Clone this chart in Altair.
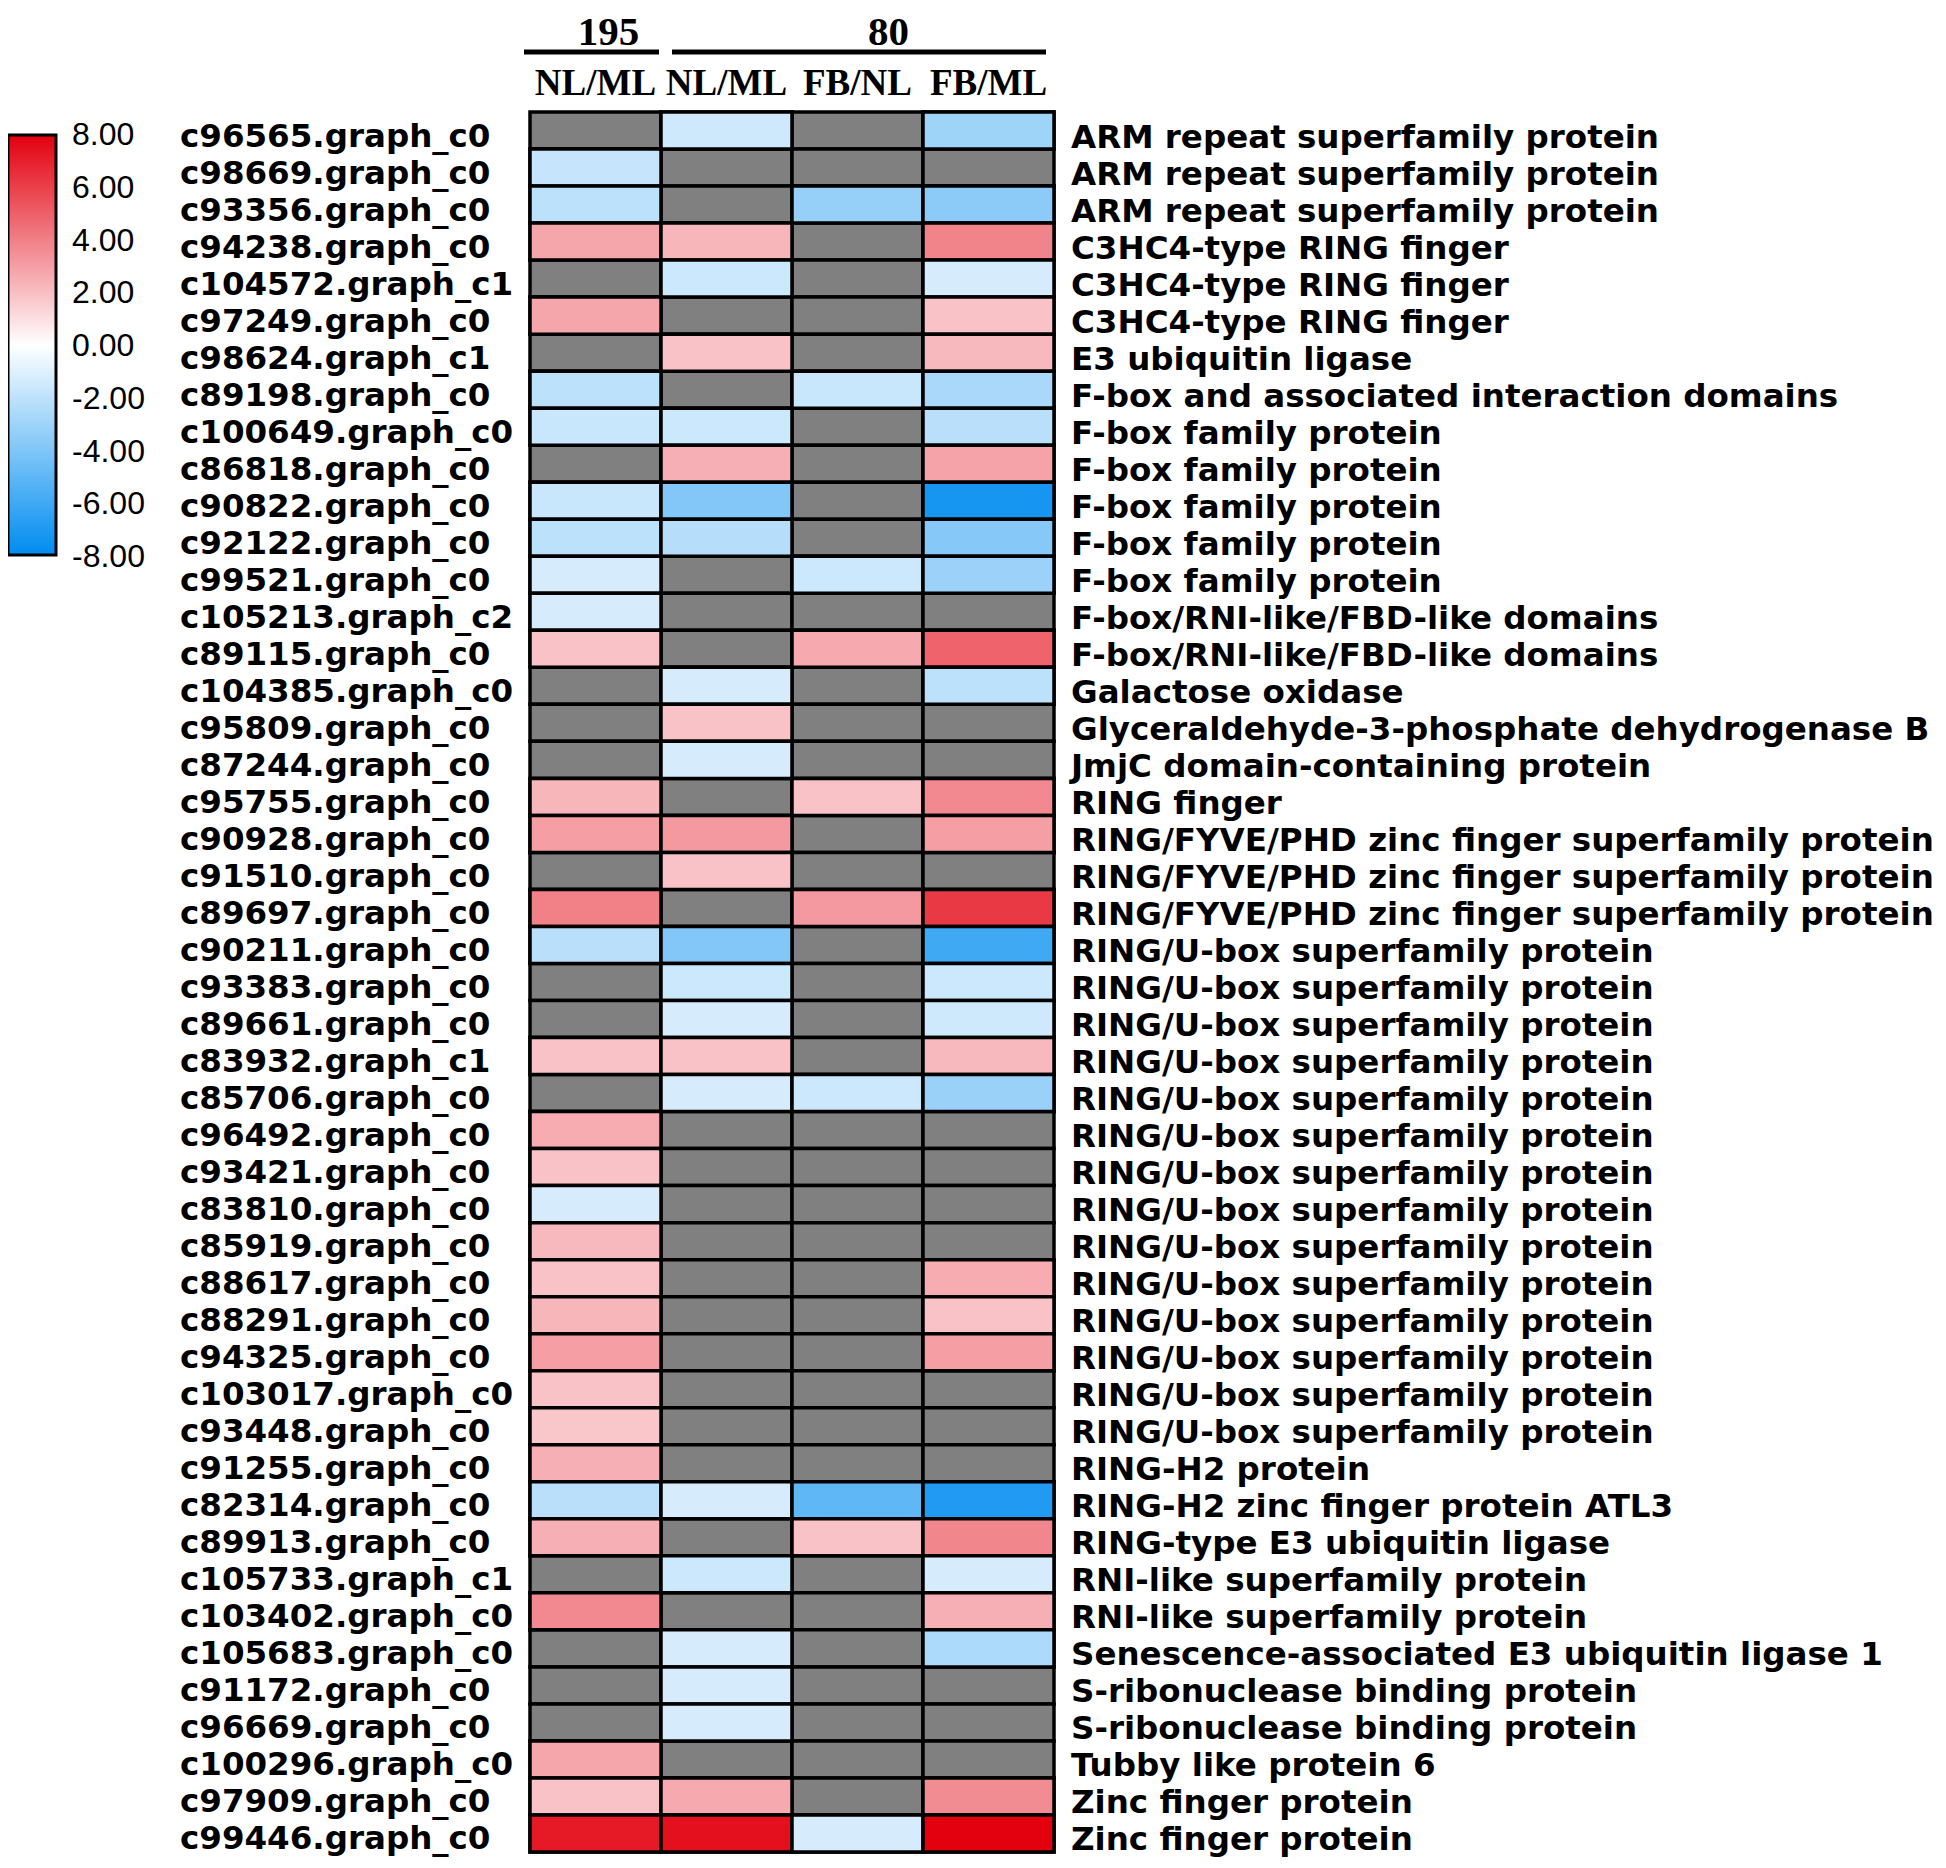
import altair as alt
import pandas as pd

genes = [
    "c96565.graph_c0", "c98669.graph_c0", "c93356.graph_c0", "c94238.graph_c0",
    "c104572.graph_c1", "c97249.graph_c0", "c98624.graph_c1", "c89198.graph_c0",
    "c100649.graph_c0", "c86818.graph_c0", "c90822.graph_c0", "c92122.graph_c0",
    "c99521.graph_c0", "c105213.graph_c2", "c89115.graph_c0", "c104385.graph_c0",
    "c95809.graph_c0", "c87244.graph_c0", "c95755.graph_c0", "c90928.graph_c0",
    "c91510.graph_c0", "c89697.graph_c0", "c90211.graph_c0", "c93383.graph_c0",
    "c89661.graph_c0", "c83932.graph_c1", "c85706.graph_c0", "c96492.graph_c0",
    "c93421.graph_c0", "c83810.graph_c0", "c85919.graph_c0", "c88617.graph_c0",
    "c88291.graph_c0", "c94325.graph_c0", "c103017.graph_c0", "c93448.graph_c0",
    "c91255.graph_c0", "c82314.graph_c0", "c89913.graph_c0", "c105733.graph_c1",
    "c103402.graph_c0", "c105683.graph_c0", "c91172.graph_c0", "c96669.graph_c0",
    "c100296.graph_c0", "c97909.graph_c0", "c99446.graph_c0",
]

annotations = [
    "ARM repeat superfamily protein", "ARM repeat superfamily protein",
    "ARM repeat superfamily protein", "C3HC4-type RING finger",
    "C3HC4-type RING finger", "C3HC4-type RING finger", "E3 ubiquitin ligase",
    "F-box and associated interaction domains", "F-box family protein",
    "F-box family protein", "F-box family protein", "F-box family protein",
    "F-box family protein", "F-box/RNI-like/FBD-like domains",
    "F-box/RNI-like/FBD-like domains", "Galactose oxidase",
    "Glyceraldehyde-3-phosphate dehydrogenase B", "JmjC domain-containing protein",
    "RING finger", "RING/FYVE/PHD zinc finger superfamily protein",
    "RING/FYVE/PHD zinc finger superfamily protein",
    "RING/FYVE/PHD zinc finger superfamily protein",
    "RING/U-box superfamily protein", "RING/U-box superfamily protein",
    "RING/U-box superfamily protein", "RING/U-box superfamily protein",
    "RING/U-box superfamily protein", "RING/U-box superfamily protein",
    "RING/U-box superfamily protein", "RING/U-box superfamily protein",
    "RING/U-box superfamily protein", "RING/U-box superfamily protein",
    "RING/U-box superfamily protein", "RING/U-box superfamily protein",
    "RING/U-box superfamily protein", "RING/U-box superfamily protein",
    "RING-H2 protein", "RING-H2 zinc finger protein ATL3",
    "RING-type E3 ubiquitin ligase", "RNI-like superfamily protein",
    "RNI-like superfamily protein", "Senescence-associated E3 ubiquitin ligase 1",
    "S-ribonuclease binding protein", "S-ribonuclease binding protein",
    "Tubby like protein 6", "Zinc finger protein", "Zinc finger protein",
]

N = None
# log2 fold changes; None = not detected (grey)
nlml_195 = [N, -1.8, -2.1, 2.8, N, 2.8, N, -2.1, -1.7, N, -1.7, -2.1, -1.3, -1.3,
            1.9, N, N, N, 2.3, 3.0, N, 4.0, -2.2, N, N, 1.9, N, 2.6, 1.9, -1.3,
            2.2, 1.9, 2.3, 3.0, 1.9, 1.8, 2.5, -2.2, 2.5, N, 3.7, N, N, N, 2.8,
            1.9, 7.2]
nlml_80 = [-1.5, N, N, 2.3, -1.6, N, 1.9, N, -1.6, 2.5, -3.9, -2.3, N, N, N,
           -1.3, 1.9, -1.3, N, 3.2, 1.9, N, -3.9, -1.6, -1.3, 1.9, -1.3, N, N, N,
           N, N, N, N, N, N, N, -1.3, N, -1.6, N, -1.3, -1.3, -1.3, N, 2.7, 7.5]
fbnl_80 = [N, N, -3.3, N, N, N, N, -1.7, N, N, N, N, -1.6, N, 2.7, N, N, N, 1.9,
           N, N, 3.2, N, N, N, N, -1.6, N, N, N, N, N, N, N, N, N, N, -5.0, 1.9,
           N, N, N, N, N, N, N, -1.3]
fbml_80 = [-3.0, N, -3.6, 3.9, -1.3, 1.9, 2.2, -2.7, -2.2, 2.9, -7.3, -3.8, -3.1,
           N, 4.9, -2.1, N, N, 3.7, 3.0, N, 6.2, -6.0, -1.6, -1.5, 2.2, -3.2, N,
           N, N, N, 2.6, 1.9, 3.0, N, N, N, -7.0, 3.8, -1.3, 2.5, -2.6, N, N, N,
           3.6, 8.0]

column_labels = ["NL/ML", "NL/ML", "FB/NL", "FB/ML"]
group_labels = ["195", "80"]
group_start = [0, 1]
group_end = [1, 4]
legend_ticks = [8, 6, 4, 2, 0, -2, -4, -6, -8]

nrows = len(genes)
series = [nlml_195, nlml_80, fbnl_80, fbml_80]
cells = pd.DataFrame(
    [{"row": r, "col": c, "value": series[c][r]} for c in range(4) for r in range(nrows)]
)
rowdf = pd.DataFrame({"row": list(range(nrows)), "gene": genes, "annot": annotations})
coldf = pd.DataFrame({"col": list(range(4)), "label": column_labels})
grpdf = pd.DataFrame({"label": group_labels, "start": group_start, "end": group_end})
legdf = pd.DataFrame({"tick": legend_ticks})

W, H = 524, 1740
xs = alt.Scale(domain=[0, 4], nice=False, zero=False)
ys = alt.Scale(domain=[0, nrows], reverse=True, nice=False, zero=False)

base_cells = alt.Chart(cells).transform_calculate(
    col_end="datum.col + 1", row_end="datum.row + 1"
)

grey = base_cells.mark_rect(fill="#808080", stroke="black", strokeWidth=3.5).encode(
    x=alt.X("col:Q", scale=xs, axis=None),
    x2="col_end:Q",
    y=alt.Y("row:Q", scale=ys, axis=None),
    y2="row_end:Q",
)

colored = base_cells.transform_filter("isValid(datum.value)").mark_rect(
    stroke="black", strokeWidth=3.5
).encode(
    x=alt.X("col:Q", scale=xs, axis=None),
    x2="col_end:Q",
    y=alt.Y("row:Q", scale=ys, axis=None),
    y2="row_end:Q",
    color=alt.Color(
        "value:Q",
        scale=alt.Scale(domain=[-8, 0, 8], range=["#008cf0", "#ffffff", "#e3000f"],
                        interpolate="rgb"),
        legend=alt.Legend(
            orient="none", legendX=-522, legendY=23, direction="vertical",
            gradientLength=420, gradientThickness=48, gradientStrokeColor="black",
            gradientStrokeWidth=3, title=None, padding=0, labelOpacity=0,
            labelExpr="''",
        ),
    ),
)

# legend tick labels, placed through their own scale alongside the gradient bar
leg_text = alt.Chart(legdf).transform_calculate(
    txt="replace(format(datum.tick, '.2f'), '\u2212', '-')"
).mark_text(
    align="left", baseline="middle", font="Liberation Sans", fontSize=32,
    color="black",
).encode(
    x=alt.value(-458),
    y=alt.Y("tick:Q", scale=alt.Scale(domain=[-8, 8], range=[445, 23], nice=False,
                                      zero=False), axis=None),
    text="txt:N",
)

rowbase = alt.Chart(rowdf).transform_calculate(mid="datum.row + 0.5")
left_text = rowbase.mark_text(
    align="left", baseline="middle", font="DejaVu Sans", fontWeight="bold",
    fontSize=32.5, dy=6, color="black",
).encode(x=alt.value(-350), y=alt.Y("mid:Q", scale=ys, axis=None), text="gene:N")

right_text = rowbase.mark_text(
    align="left", baseline="middle", font="DejaVu Sans", fontWeight="bold",
    fontSize=32.5, dy=7, color="black",
).encode(x=alt.value(541), y=alt.Y("mid:Q", scale=ys, axis=None), text="annot:N")

col_text = alt.Chart(coldf).transform_calculate(mid="datum.col + 0.5").mark_text(
    align="center", baseline="alphabetic", font="Liberation Serif",
    fontWeight="bold", fontSize=37, color="black",
).encode(x=alt.X("mid:Q", scale=xs, axis=None), y=alt.value(-17), text="label:N")

grp_layers = []
offsets = {"195": (-6, -2, 13), "80": (11, -8, 31)}
for lab in group_labels:
    o1, o2, dxv = offsets[lab]
    g = alt.Chart(grpdf).transform_filter(alt.datum.label == lab)
    grp_layers.append(
        g.mark_rule(color="black", strokeWidth=5, xOffset=o1, x2Offset=o2).encode(
            x=alt.X("start:Q", scale=xs, axis=None), x2="end:Q", y=alt.value(-60)
        )
    )
    grp_layers.append(
        g.transform_calculate(mid="(datum.start + datum.end) / 2").mark_text(
            align="center", baseline="alphabetic", font="Liberation Serif",
            fontWeight="bold", fontSize=41, dx=dxv, color="black",
        ).encode(x=alt.X("mid:Q", scale=xs, axis=None), y=alt.value(-67), text="label:N")
    )

chart = alt.layer(
    grey, colored, leg_text, left_text, right_text, col_text, *grp_layers
).resolve_scale(y="independent").properties(
    width=W, height=H,
    autosize=alt.AutoSizeParams(type="none"),
    padding={"left": 522, "top": 104, "right": 884, "bottom": 8},
).configure_view(stroke=None).configure(background="white")

chart.save("out.html", embed_options={"renderer": "svg", "actions": False})
